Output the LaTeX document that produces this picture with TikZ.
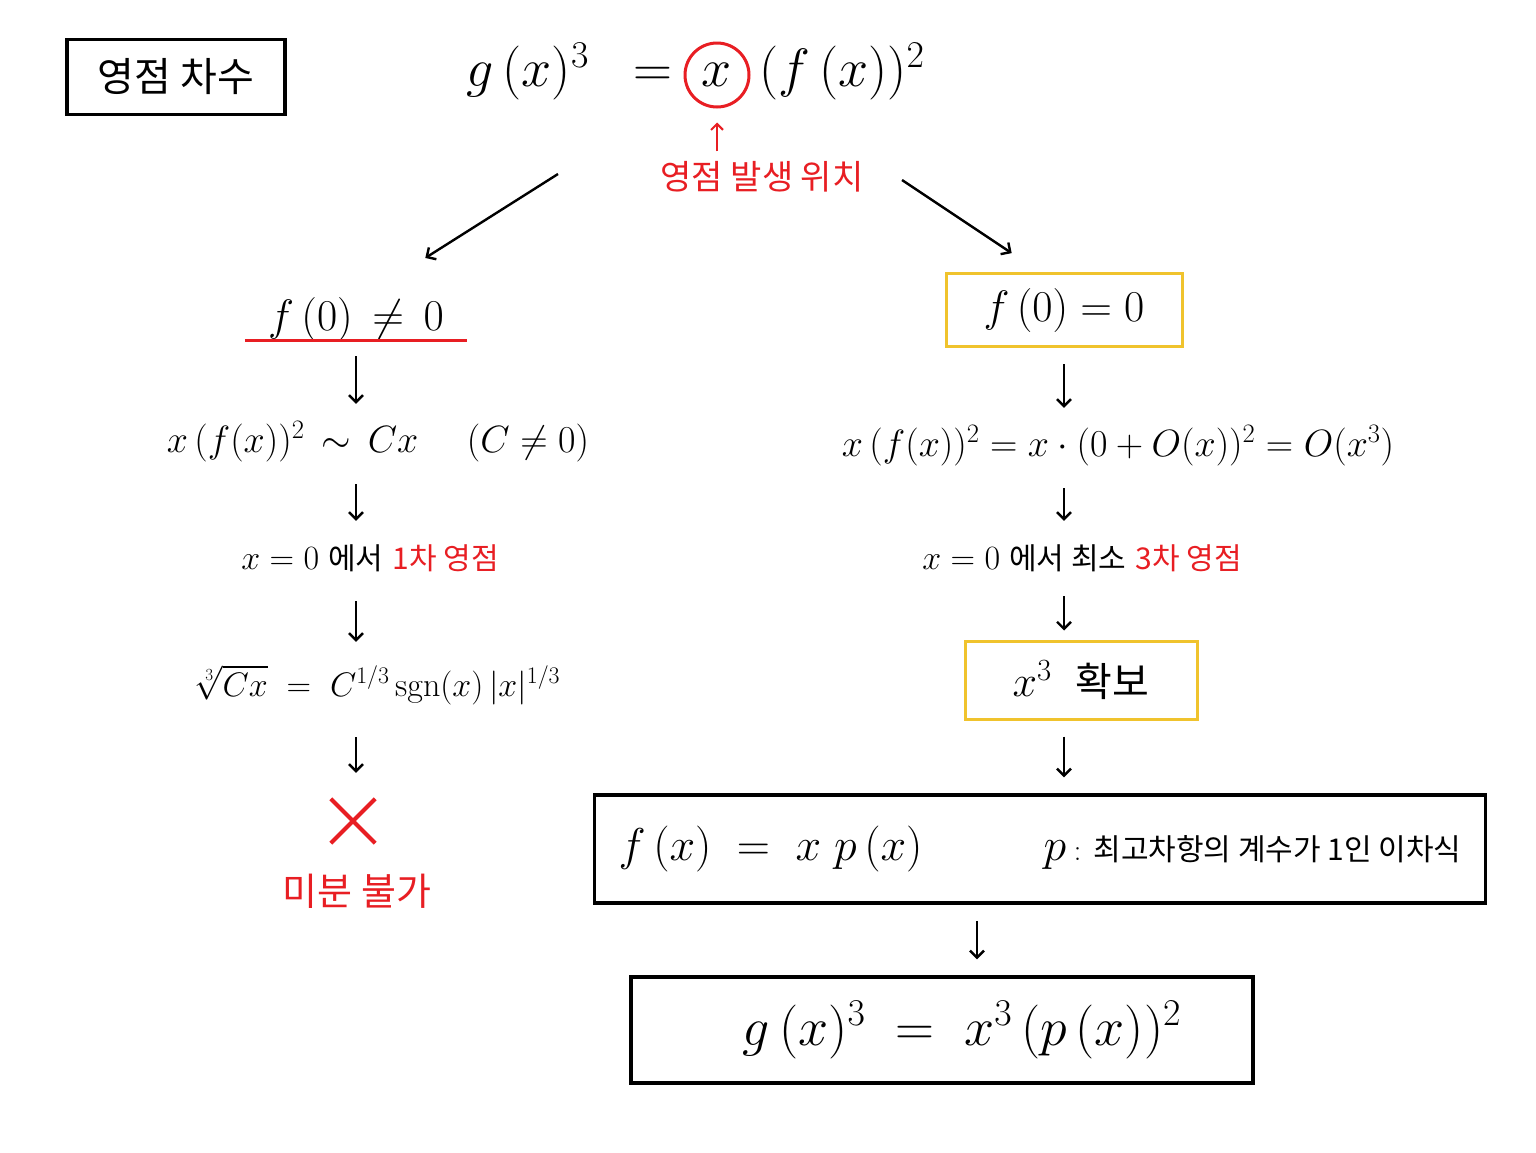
\RequirePackage{fix-cm}
\documentclass[tikz,border=0pt]{standalone}
\usepackage{fontspec}
\newfontfamily\krfont{Noto Sans CJK KR}
\usetikzlibrary{arrows.meta}
\definecolor{hlred}{RGB}{232,30,35}
\definecolor{hlgold}{RGB}{240,195,45}
\begin{document}
\begin{tikzpicture}[x=1pt,y=-1pt,
   eqn/.style={inner xsep=0pt, inner ysep=8pt, text height=24pt, text depth=8pt, font=\fontsize{38}{44}\selectfont},
   lbl/.style={inner sep=4pt, font=\krfont\fontsize{30}{36}\selectfont},
   frame/.style={draw, line width=3.5pt, inner sep=0pt},
   goldframe/.style={draw=hlgold, line width=3pt, inner sep=0pt},
   darr/.style={-{Straight Barb[length=7pt,width=14pt]}, line width=2.4pt, shorten <=16pt, shorten >=16pt},
   rarr/.style={-{Straight Barb[length=6pt,width=12pt]}, line width=2pt, hlred}]
   \useasboundingbox[fill=white] (0,0) rectangle (1536,1152);
   % title and top equation
   \node[frame, minimum width=218pt, minimum height=75pt, font=\krfont\fontsize{40}{48}\selectfont] (title) at (176,77) {영점 차수};
   \node[draw=hlred, line width=3pt, circle, minimum size=64pt, inner sep=0pt, font=\fontsize{54}{64}\selectfont] (zx) at (717,75) {$x$};
   \node[anchor=base east, inner sep=0pt, font=\fontsize{54}{64}\selectfont] (gx) at ([xshift=-44pt]zx.base) {$g\,(x)^3 \;\;=$};
   \node[anchor=base west, inner sep=0pt, font=\fontsize{54}{64}\selectfont] (fx) at ([xshift=42pt]zx.base) {$(f\,(x))^2$};
   \node[lbl, text=hlred, font=\krfont\fontsize{34}{40}\selectfont] (zlab) at (762,177) {영점 발생 위치};
   \draw[rarr, shorten <=6pt, shorten >=14pt] (zlab.north -| zx) -- (zx.south);
   \coordinate (splitL) at (558,174);
   \coordinate (splitR) at (902,180);
   % left branch
   \node[inner sep=0pt, minimum width=222pt, text height=28pt, text depth=10pt, font=\fontsize{44}{52}\selectfont] (f0ne) at (356,321) {$f\,(0)\,\neq\, 0$};
   \draw[hlred, line width=2.8pt] (f0ne.south west) -- (f0ne.south east);
   \node[eqn] (ccx) at (378,444) {$x\,(f(x))^2 \,\sim\, Cx \quad\; (C\neq 0)$};
   \node[eqn, font=\fontsize{30}{36}\selectfont] (ord1) at (370,561) {{\fontsize{34}{40}\selectfont$x=0$} {\krfont 에서} \textcolor{hlred}{\krfont 1차 영점}};
   \node[eqn, font=\fontsize{34}{40}\selectfont, text height=30pt] (root) at (378,685) {$\sqrt[3]{Cx} \;=\; C^{1/3}\,\mathrm{sgn}(x)\,|x|^{1/3}$};
   \node[minimum size=44pt, inner sep=0pt] (xmark) at (353,821) {};
   \draw[hlred, line width=4pt] (xmark.north west) -- (xmark.south east) (xmark.north east) -- (xmark.south west);
   \node[lbl, text=hlred, font=\krfont\fontsize{38}{44}\selectfont] (nodiff) at (357,891) {미분 불가};
   % right branch
   \node[goldframe, minimum width=236pt, minimum height=73pt, font=\fontsize{44}{52}\selectfont] (f0eq) at (1064,310) {$f\,(0) = 0$};
   \node[eqn] (bigo) at (1118,448) {$x\,(f(x))^2 = x\cdot(0+O(x))^2 = O(x^3)$};
   \node[eqn, font=\fontsize{30}{36}\selectfont] (ord3) at (1082,561) {{\fontsize{34}{40}\selectfont$x=0$} {\krfont 에서 최소} \textcolor{hlred}{\krfont 3차 영점}};
   \node[goldframe, minimum width=232pt, minimum height=78pt, font=\fontsize{44}{52}\selectfont] (x3box) at (1081,680) {$x^3$\hspace{24pt}{\krfont\fontsize{40}{48}\selectfont 확보}};
   \node[frame, minimum width=891pt, minimum height=108pt, font=\fontsize{46}{54}\selectfont] (fpx) at (1040,849)
      {\hbox to 843pt{$f\,(x) \;=\; x\;p\,(x)$\hfill$p$\,{\fontsize{30}{36}\selectfont: \krfont 최고차항의 계수가 1인 이차식}}};
   \node[frame, minimum width=622pt, minimum height=106pt, font=\fontsize{54}{64}\selectfont] (gx3) at (942,1030) {\hspace*{40pt}$g\,(x)^3 \;=\; x^3\,(p\,(x))^2$};
   % connectors
   \draw[darr, shorten <=0pt, shorten >=82pt] (splitL) -- (f0ne.north);
   \draw[darr, shorten <=0pt, shorten >=34pt] (splitR) -- ([xshift=-24pt]f0eq.north);
   \draw[darr] (f0ne.south) -- (f0ne.south |- ccx.north);
   \draw[darr] (ccx.south -| f0ne) -- (ord1.north -| f0ne);
   \draw[darr] (ord1.south -| f0ne) -- (root.north -| f0ne);
   \draw[darr, shorten <=25pt, shorten >=26pt] (root.south -| f0ne) -- (xmark.north -| f0ne);
   \draw[darr] (f0eq.south) -- (f0eq.south |- bigo.north);
   \draw[darr] (bigo.south -| f0eq) -- (ord3.north -| f0eq);
   \draw[darr, shorten <=11pt, shorten >=9pt] (ord3.south -| f0eq) -- (x3box.north -| f0eq);
   \draw[darr] (x3box.south -| f0eq) -- (fpx.north -| f0eq);
   \draw[darr] ([xshift=35pt]gx3.north |- fpx.south) -- ([xshift=35pt]gx3.north);
\end{tikzpicture}
\end{document}
